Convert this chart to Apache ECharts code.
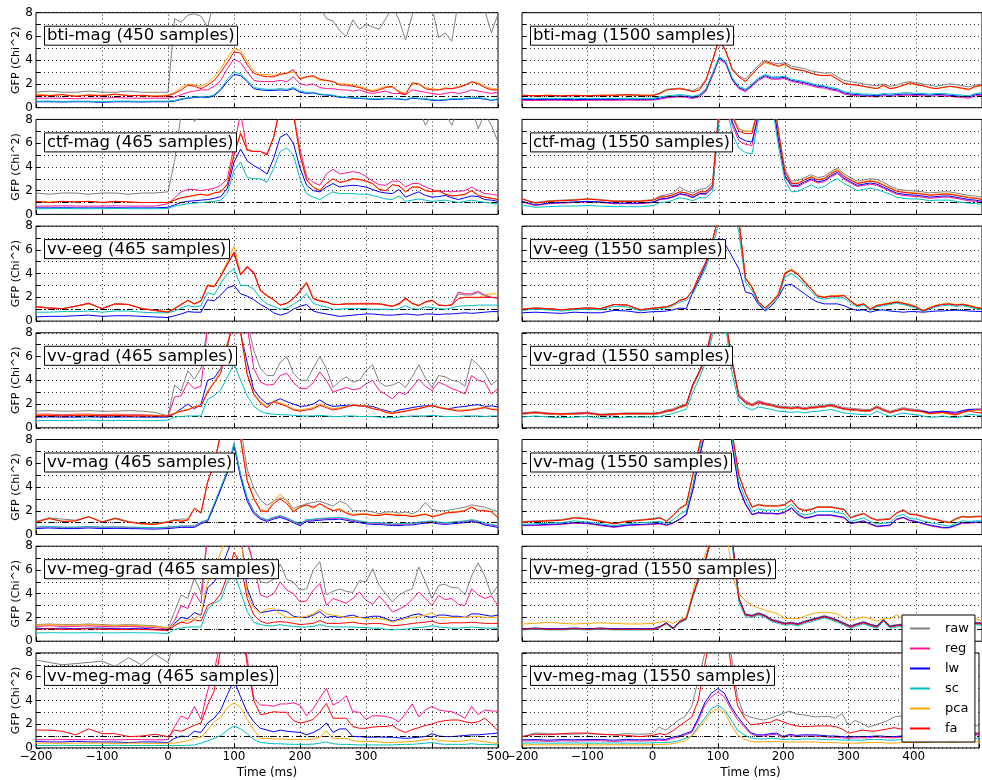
<!DOCTYPE html>
<html><head><meta charset="utf-8">
<script src="https://cdn.jsdelivr.net/npm/echarts@6/dist/echarts.min.js"></script>
<style>html,body{margin:0;padding:0;background:#fff}#c{width:982px;height:780px}</style>
</head><body><div id="c"></div>
<script>
const times = [-200,-180,-160,-140,-120,-100,-80,-60,-40,-20,0,10,20,30,40,50,60,70,80,90,100,110,120,130,140,150,160,170,180,190,200,210,220,230,240,250,260,270,280,290,300,310,320,330,340,350,360,370,380,390,400,410,420,430,440,450,460,470,480,490,500];
const seriesNames = ['raw','reg','lw','sc','pca','fa'];
const refLevel = 1;
const timeGrid = [-100,0,100,200,300,400];
const leftTicks = [-200,-100,0,100,200,300,500];
const rightTicks = [-200,-100,0,100,200,300,400];

// ---- bti-mag (450 samples)
const bti450_raw = [1.3,1.4,1.3,1.3,1.4,1.3,1.3,1.4,1.3,1.3,1.3, 7.5,7.2,7.8,7.9,7.7,6.8,9,10,11,12, 12,11,10,10,9.5,9,9,9,9,9, 9,9,8.5,7.5,7.3,6.5,6.0,7.4,6.6,7.0, 6.8,6.6,7.5,8.5,7.4,5.7,7.8,9,9,8.5, 5.9,6.3,5.6,9,9,9,9,8.2,6.3,7.9];
const bti450_reg = [0.8,0.8,0.8,0.75,0.8,0.8,0.85,0.8,0.8,0.8,0.8, 0.9,1.1,1.3,1.4,1.5,1.5,1.8,2.3,3.3,4.1, 3.8,3.0,2.3,2.2,2.2,2.2,2.3,2.2,2.6,2.0, 1.9,2.0,1.7,1.6,1.6,1.5,1.5,1.4,1.5,1.3, 1.2,1.3,1.4,1.2,1.2,1.1,1.5,1.4,1.3,1.2, 1.1,1.2,1.3,1.2,1.3,1.5,1.4,1.3,1.2,1.3];
const bti450_lw = [0.5,0.5,0.48,0.5,0.5,0.45,0.5,0.5,0.48,0.5,0.5, 0.55,0.7,0.8,0.85,0.9,0.85,1.0,1.5,2.2,2.8, 2.7,2.2,1.6,1.5,1.45,1.45,1.5,1.45,1.6,1.3, 1.2,1.25,1.1,1.07,1.0,0.87,0.85,0.8,0.78,0.75, 0.7,0.7,0.75,0.75,0.72,0.65,0.8,0.75,0.72,0.62, 0.6,0.65,0.7,0.7,0.75,0.78,0.8,0.72,0.62,0.7];
const bti450_sc = [0.55,0.56,0.53,0.55,0.55,0.5,0.55,0.56,0.53,0.55,0.55, 0.6,0.75,0.85,0.9,0.95,0.9,1.1,1.6,2.4,3.0, 2.85,2.3,1.7,1.6,1.55,1.55,1.6,1.55,1.7,1.4, 1.3,1.3,1.15,1.1,1.05,0.92,0.9,0.85,0.82,0.8, 0.75,0.75,0.8,0.8,0.77,0.7,0.85,0.8,0.77,0.68, 0.65,0.7,0.75,0.75,0.8,0.82,0.85,0.77,0.66,0.75];
const bti450_pca = [1.15,1.05,1.1,1.0,1.1,1.05,1.1,1.05,1.0,1.0,1.05, 1.3,1.7,2.0,1.9,1.8,2.1,2.6,3.3,4.2,5.0, 4.8,3.9,3.1,2.8,2.8,2.7,2.9,2.9,3.0,2.5, 2.6,2.6,2.3,2.3,2.2,2.0,2.0,1.9,1.8,1.6, 1.45,1.6,1.8,1.7,1.4,1.2,2.0,2.0,1.7,1.6, 1.5,1.7,1.6,1.8,1.9,2.1,2.1,1.8,1.6,1.6];
const bti450_fa = [1.05,1.0,1.1,0.95,1.05,1.0,1.15,1.0,1.05,0.95,1.0, 1.2,1.5,1.9,1.8,1.6,1.9,2.3,3.0,3.8,4.7, 4.6,3.6,2.9,2.7,2.6,2.6,2.8,2.9,3.2,2.4, 2.6,2.7,2.4,2.3,2.2,1.9,1.9,1.8,1.7,1.5, 1.35,1.5,1.7,1.8,1.3,1.1,2.1,2.0,1.6,1.5, 1.5,1.6,1.6,1.7,1.9,2.2,2.0,1.7,1.5,1.5];

// ---- bti-mag (1500 samples)
const bti1500_raw = [1.0,1.0,1.0,0.95,1.0,1.0,1.0,1.05,1.05,1.0,1.0, 1.25,1.55,1.6,1.65,1.55,1.45,1.7,2.4,4.0,5.7, 4.7,3.3,2.7,2.4,3.0,3.6,4.0,3.8,3.7,3.8, 3.5,3.4,3.3,3.1,3.0,2.9,2.95,2.6,2.3,2.2, 2.1,2.0,1.9,1.85,2.0,1.8,1.9,2.1,2.2,2.1, 2.0,1.9,1.8,1.9,2.0,1.95,1.85,1.75,1.9,2.0];
const bti1500_reg = [0.62,0.6,0.62,0.62,0.6,0.62,0.62,0.62,0.64,0.62,0.64, 0.72,0.82,0.87,0.92,0.87,0.77,0.92,1.4,2.7,4.1, 3.7,2.3,1.6,1.35,1.8,2.3,2.6,2.4,2.4,2.45, 2.2,2.1,2.0,1.85,1.7,1.65,1.5,1.4,1.15,1.05, 1.0,0.95,0.95,0.9,1.0,0.95,1.0,1.05,1.05,1.0, 1.0,0.95,1.0,1.0,0.95,0.9,0.85,0.8,1.0,1.05];
const bti1500_lw = [0.7,0.68,0.7,0.7,0.68,0.7,0.7,0.7,0.72,0.7,0.72, 0.8,0.9,0.95,1.0,0.95,0.85,1.0,1.5,2.8,4.2, 3.8,2.4,1.7,1.45,1.9,2.4,2.7,2.5,2.5,2.55, 2.3,2.2,2.1,1.95,1.8,1.75,1.6,1.5,1.25,1.15, 1.1,1.05,1.05,1.0,1.1,1.05,1.1,1.15,1.15,1.1, 1.1,1.05,1.1,1.1,1.05,1.0,0.95,0.9,1.1,1.15];
const bti1500_sc = [0.78,0.76,0.78,0.78,0.76,0.78,0.78,0.78,0.8,0.78,0.8, 0.9,1.0,1.05,1.1,1.05,0.95,1.1,1.6,2.9,4.3, 3.9,2.5,1.8,1.55,2.0,2.5,2.8,2.6,2.6,2.65, 2.4,2.3,2.2,2.05,1.9,1.85,1.7,1.6,1.35,1.25, 1.2,1.15,1.15,1.1,1.2,1.15,1.2,1.25,1.25,1.2, 1.2,1.15,1.2,1.2,1.15,1.1,1.05,1.0,1.2,1.25];
const bti1500_pca = [1.05,1.0,1.05,1.0,1.05,1.0,1.05,1.05,1.1,1.05,1.05, 1.2,1.5,1.55,1.6,1.5,1.35,1.5,2.3,4.0,5.8, 4.8,3.2,2.6,2.2,2.8,3.4,3.8,3.6,3.5,3.6, 3.3,3.2,3.1,2.9,2.75,2.7,2.7,2.4,2.05,1.95, 1.9,1.8,1.7,1.6,1.85,1.6,1.7,1.9,2.05,1.9, 1.85,1.7,1.6,1.7,1.8,1.7,1.6,1.5,1.75,1.85];
const bti1500_fa = [1.05,1.0,1.05,1.0,1.05,1.0,1.05,1.05,1.1,1.05,1.05, 1.2,1.5,1.55,1.6,1.5,1.35,1.5,2.3,4.0,5.8, 4.8,3.2,2.6,2.2,2.8,3.4,3.9,3.7,3.5,3.7, 3.3,3.2,3.1,2.9,2.75,2.7,2.75,2.4,2.05,1.95, 1.9,1.8,1.7,1.6,1.9,1.6,1.7,1.9,2.1,1.95, 1.85,1.7,1.6,1.7,1.8,1.75,1.65,1.55,1.8,1.9];

// ---- ctf-mag (465 samples)
const ctf465_raw = [1.8,1.7,1.8,1.8,1.7,1.8,1.8,1.7,1.8,1.8,1.9, 4.5,8.5,9,7.8,8.5,9,10,11,12,12, 12,12,12,12,12,12,12,12,12,11, 10,10,9.5,9.5,9,9,9,9,9,9, 9,9,9,9,9,9,9,9,7.5,8.5, 9,8.5,7.5,9,9,9,7.2,8.5,7.5,6.1];
const ctf465_reg = [0.7,0.7,0.72,0.7,0.7,0.7,0.72,0.7,0.7,0.7,0.9, 1.4,1.9,2.1,2.1,2.0,2.1,2.2,2.45,3.0,5.8, 8.5,5.4,5.3,5.3,5.1,6.5,9,9,8.5,5.5, 3.2,2.7,2.45,3.4,3.8,3.4,3.5,3.6,3.5,3.2, 2.8,2.5,2.45,2.8,2.8,2.3,2.6,2.6,2.3,2.1, 1.9,1.95,1.9,1.95,2.0,2.3,2.0,1.75,1.7,1.6];
const ctf465_lw = [0.55,0.55,0.56,0.55,0.55,0.55,0.56,0.55,0.55,0.55,0.6, 0.8,1.0,1.1,1.15,1.2,1.25,1.35,1.5,2.2,4.4, 5.5,4.5,4.1,3.8,3.4,4.7,6.5,6.8,6.0,3.9, 2.45,2.0,1.9,2.3,2.6,2.3,2.4,2.45,2.4,2.3, 2.1,1.9,1.8,1.75,2.1,1.45,1.7,1.9,1.6,1.45, 1.5,1.6,1.4,1.25,1.4,1.55,1.5,1.25,1.2,1.1];
const ctf465_sc = [0.48,0.48,0.5,0.48,0.48,0.48,0.5,0.48,0.48,0.48,0.5, 0.7,0.8,0.9,0.95,1.0,1.05,1.1,1.2,1.8,3.7, 4.4,3.1,3.0,3.0,2.7,3.85,5.3,5.6,5.0,3.0, 1.75,1.45,1.25,1.6,1.9,1.75,1.75,1.75,1.7,1.7, 1.6,1.45,1.3,1.25,1.55,1.1,1.2,1.3,1.2,1.1, 1.15,1.2,1.1,1.0,1.1,1.2,1.1,1.0,0.95,0.85];
const ctf465_pca = [1.1,1.05,1.1,1.05,1.1,1.0,1.1,1.05,1.0,1.0,1.0, 1.2,1.4,1.5,1.6,1.7,1.6,1.8,1.95,2.6,5.2, 6.9,5.5,5.3,5.3,5.0,6.5,9,9,8.5,5.0, 2.9,2.3,2.0,2.6,3.0,2.7,2.8,3.0,2.95,2.8, 2.6,2.1,2.0,2.5,2.4,1.9,2.3,2.3,2.0,1.9, 2.0,1.7,1.55,1.6,1.7,2.0,1.6,1.45,1.35,1.3];
const ctf465_fa = [1.1,1.0,1.1,1.05,1.1,1.0,1.1,1.05,1.0,1.0,1.0, 1.2,1.4,1.5,1.6,1.7,1.6,1.8,1.9,2.5,5.0, 6.8,5.4,5.3,5.3,5.0,6.5,9,9,8.5,5.0, 2.9,2.3,2.0,2.6,3.0,2.7,2.8,3.0,2.95,2.8, 2.6,2.1,2.0,2.5,2.4,1.9,2.3,2.3,2.0,1.9, 2.0,1.7,1.55,1.6,1.7,2.0,1.6,1.45,1.35,1.25];

// ---- ctf-mag (1550 samples)
const ctf1550_raw = [1.3,1.0,1.15,1.2,1.25,1.3,1.25,1.15,1.15,1.15,1.25, 1.55,1.65,1.8,2.3,2.0,1.8,2.1,2.2,2.7,9, 11,8.4,7.2,7.0,7.0,9,12,11,7.2,3.8, 2.8,2.85,3.1,3.35,3.1,3.2,3.6,3.9,3.4,3.1, 2.8,2.9,3.0,2.95,2.7,2.4,2.15,2.05,2.0,1.95, 1.9,1.8,1.85,1.9,1.9,1.8,1.7,1.6,1.55,1.45];
const ctf1550_reg = [1.05,0.75,0.9,0.95,1.0,1.05,1.0,0.9,0.9,0.9,1.0, 1.25,1.3,1.45,1.7,1.6,1.4,1.7,1.7,2.2,8.5, 10,7.5,6.2,5.9,5.8,8.5,11,10,6.3,3.2, 2.35,2.35,2.65,2.9,2.65,2.75,3.15,3.45,2.95,2.65, 2.35,2.45,2.55,2.45,2.2,1.95,1.7,1.6,1.55,1.5, 1.45,1.35,1.4,1.45,1.45,1.35,1.25,1.15,1.1,1.0];
const ctf1550_lw = [1.1,0.8,0.95,1.0,1.05,1.1,1.05,0.95,0.95,0.95,1.05, 1.3,1.35,1.5,1.75,1.65,1.45,1.75,1.75,2.3,8.5, 10,7.8,6.5,6.2,6.1,8.5,11,10,6.5,3.3, 2.45,2.45,2.75,3.0,2.75,2.85,3.25,3.55,3.05,2.75, 2.45,2.55,2.65,2.55,2.3,2.05,1.8,1.7,1.65,1.6, 1.55,1.45,1.5,1.55,1.55,1.45,1.35,1.25,1.2,1.1];
const ctf1550_sc = [0.8,0.6,0.65,0.7,0.7,0.75,0.7,0.65,0.65,0.65,0.75, 1.0,1.05,1.2,1.4,1.3,1.15,1.4,1.4,1.9,8, 9.5,6.8,5.6,5.2,5.1,8,10.5,9.5,5.8,2.9, 1.9,1.95,2.2,2.5,2.2,2.35,2.75,3.0,2.6,2.3, 2.0,2.1,2.2,2.1,1.9,1.7,1.45,1.35,1.3,1.3, 1.25,1.15,1.2,1.2,1.2,1.1,1.0,0.95,0.9,0.85];
const ctf1550_pca = [1.3,0.95,1.1,1.15,1.2,1.3,1.2,1.1,1.1,1.1,1.2, 1.45,1.5,1.65,1.9,1.8,1.6,1.9,1.9,2.5,9, 11,8.3,7.2,7.0,7.0,9,12,11,7.0,3.6, 2.65,2.65,2.95,3.2,2.95,3.05,3.5,3.8,3.25,2.95, 2.65,2.75,2.85,2.75,2.5,2.25,2.0,1.9,1.85,1.8, 1.75,1.65,1.7,1.75,1.75,1.65,1.55,1.45,1.4,1.3];
const ctf1550_fa = [1.3,0.95,1.1,1.15,1.2,1.3,1.2,1.1,1.1,1.1,1.2, 1.45,1.5,1.65,1.9,1.8,1.6,1.9,1.9,2.5,9, 11,8.2,7.0,6.8,6.8,9,12,11,7.0,3.6, 2.6,2.6,2.9,3.15,2.9,3.0,3.4,3.7,3.2,2.9, 2.6,2.7,2.8,2.7,2.45,2.2,1.95,1.85,1.8,1.75, 1.7,1.6,1.65,1.7,1.7,1.6,1.5,1.4,1.35,1.25];

// ---- vv-eeg (465 samples)
const eeg465_raw = [1.2,1.1,1.05,1.25,1.5,1.05,1.45,1.4,1.05,0.9,0.75, 1.05,1.4,1.75,1.45,1.7,3.0,2.9,3.8,4.8,5.7, 3.9,4.6,4.1,2.6,2.15,1.8,1.35,1.5,1.9,2.5, 3.2,1.9,1.7,1.6,1.4,1.4,1.45,1.45,1.45,1.45, 1.45,1.45,1.35,1.25,1.45,1.9,1.5,1.3,1.6,1.75, 1.35,1.3,1.35,2.3,2.2,2.2,2.4,2.1,2.0,1.95];
const eeg465_reg = [1.2,1.1,1.05,1.25,1.5,1.05,1.45,1.4,1.05,0.9,0.75, 1.05,1.4,1.75,1.45,1.7,3.0,2.9,3.8,4.8,5.7, 3.9,4.5,4.0,2.6,2.15,1.8,1.35,1.5,1.9,2.6, 3.3,1.9,1.7,1.6,1.4,1.4,1.45,1.45,1.5,1.5, 1.5,1.45,1.35,1.25,1.5,1.95,1.5,1.3,1.65,1.75, 1.35,1.3,1.35,2.45,2.3,2.3,2.5,2.2,2.0,1.95];
const eeg465_lw = [0.35,0.4,0.4,0.45,0.5,0.4,0.45,0.45,0.4,0.35,0.3, 0.45,0.6,0.8,0.75,0.75,1.8,1.7,2.2,2.8,3.0, 2.3,2.1,1.8,1.4,1.1,0.7,0.5,0.65,1.0,1.25, 1.4,0.85,0.7,0.6,0.5,0.4,0.45,0.5,0.55,0.6, 0.6,0.55,0.5,0.5,0.55,0.6,0.55,0.5,0.6,0.6, 0.55,0.6,0.6,0.65,0.7,0.65,0.7,0.75,0.8,0.8];
const eeg465_sc = [0.75,0.75,0.8,0.8,0.85,0.75,0.85,0.85,0.75,0.7,0.7, 0.85,1.1,1.3,1.2,1.3,2.4,2.2,3.2,4.0,4.4, 3.0,3.0,2.7,1.9,1.45,1.25,1.0,1.1,1.4,1.8, 2.3,1.5,1.3,1.2,1.0,1.0,1.05,1.05,1.05,1.05, 1.0,1.0,1.0,0.95,1.05,1.3,1.05,1.0,1.2,1.15, 1.05,1.0,1.1,1.25,1.3,1.3,1.35,1.35,1.35,1.35];
const eeg465_pca = [1.25,1.1,1.05,1.25,1.45,1.05,1.45,1.4,1.05,0.9,0.8, 1.1,1.45,1.75,1.45,1.7,3.1,2.9,3.9,5.0,6.3, 4.0,4.6,4.1,2.5,2.1,1.8,1.35,1.5,1.9,2.5, 3.3,1.95,1.75,1.6,1.4,1.4,1.45,1.45,1.45,1.45, 1.45,1.45,1.35,1.25,1.4,1.85,1.45,1.3,1.6,1.7, 1.35,1.3,1.35,1.9,2.0,2.0,1.95,2.2,2.3,2.3];
const eeg465_fa = [1.2,1.1,1.05,1.25,1.5,1.05,1.45,1.4,1.05,0.9,0.75, 1.05,1.4,1.75,1.45,1.7,3.0,2.9,3.8,4.8,5.8, 3.9,4.6,4.1,2.6,2.15,1.8,1.35,1.5,1.9,2.5, 3.2,1.9,1.7,1.6,1.4,1.4,1.45,1.45,1.45,1.45, 1.45,1.45,1.35,1.25,1.45,1.9,1.5,1.3,1.6,1.75, 1.35,1.3,1.35,1.9,2.0,2.0,2.0,2.0,2.0,1.95];

// ---- vv-eeg (1550 samples)
const eeg1550_raw = [1.0,1.1,1.05,0.95,1.05,1.1,1.05,1.4,1.35,0.95,1.1, 1.15,1.2,1.4,1.75,1.9,2.6,3.85,5.0,6.8,9, 11,10,8.5,3.6,2.85,1.6,1.1,1.6,2.2,4.0, 4.3,3.9,3.3,2.7,2.1,2.0,2.1,2.1,2.15,1.7, 1.3,1.45,1.0,1.3,1.4,1.5,1.6,1.5,1.35,1.2, 0.85,1.1,1.3,1.4,1.45,1.35,1.4,1.3,1.15,1.05];
const eeg1550_reg = [1.0,1.1,1.05,0.95,1.05,1.1,1.05,1.4,1.35,0.95,1.1, 1.15,1.2,1.4,1.75,1.9,2.6,3.85,5.0,6.8,9, 11,10,8.5,3.6,2.85,1.6,1.1,1.6,2.2,4.0, 4.3,3.9,3.3,2.7,2.1,2.0,2.1,2.1,2.15,1.7, 1.3,1.45,1.0,1.3,1.4,1.5,1.6,1.5,1.35,1.2, 0.85,1.1,1.3,1.4,1.45,1.35,1.4,1.3,1.15,1.05];
const eeg1550_lw = [0.7,0.75,0.7,0.65,0.75,0.7,0.7,0.9,0.85,0.7,0.8, 0.8,0.85,0.95,1.1,1.05,2.45,3.55,4.8,6.4,7.0, 6.4,5.4,4.4,2.45,2.3,1.4,0.85,1.3,2.0,3.0, 3.1,2.7,2.3,1.9,1.6,1.45,1.45,1.45,1.3,1.05, 0.9,0.95,0.75,0.9,0.95,0.85,0.8,0.75,0.8,0.8, 0.75,0.8,0.85,0.85,0.9,0.92,0.9,0.85,0.82,0.8];
const eeg1550_sc = [0.9,1.0,0.95,0.85,0.95,1.0,0.95,1.25,1.2,0.85,1.0, 1.05,1.1,1.3,1.6,1.75,2.3,3.4,4.5,6.2,8.5, 10,9.5,7.5,3.3,2.6,1.45,0.95,1.45,2.0,3.7, 4.0,3.6,3.05,2.5,1.95,1.85,1.95,1.95,1.95,1.55, 1.2,1.35,0.9,1.2,1.3,1.4,1.5,1.4,1.25,1.1, 0.8,1.0,1.2,1.3,1.35,1.25,1.3,1.2,1.05,0.95];
const eeg1550_pca = [1.05,1.1,1.05,0.95,1.05,1.1,1.05,1.4,1.35,0.95,1.1, 1.15,1.2,1.4,1.75,1.9,2.6,3.85,5.0,6.8,9, 11,10,8.5,3.7,2.9,1.65,1.15,1.65,2.3,4.1, 4.4,4.0,3.4,2.75,2.15,2.05,2.15,2.15,2.2,1.75, 1.35,1.5,1.05,1.35,1.45,1.55,1.65,1.55,1.4,1.25, 0.9,1.15,1.35,1.45,1.5,1.4,1.45,1.35,1.2,1.1];
const eeg1550_fa = [1.0,1.1,1.05,0.95,1.05,1.1,1.05,1.4,1.35,0.95,1.1, 1.15,1.2,1.4,1.75,1.9,2.6,3.85,5.0,6.8,9, 11,10,8.5,3.6,2.85,1.6,1.1,1.6,2.2,4.0, 4.3,3.9,3.3,2.7,2.1,2.0,2.1,2.1,2.15,1.7, 1.3,1.45,1.0,1.3,1.4,1.5,1.6,1.5,1.35,1.2, 0.85,1.1,1.3,1.4,1.45,1.35,1.4,1.3,1.15,1.05];

// ---- vv-grad (465 samples)
const grad465_raw = [1.4,1.45,1.4,1.4,1.45,1.4,1.4,1.45,1.4,1.3,1.0, 3.6,3.1,4.8,4.1,5.0,8.5,10,11,12,12, 11,9,6.5,5.0,4.4,4.4,5.5,6.0,4.6,4.0, 4.0,5.0,6.0,5.0,3.4,3.9,4.3,3.85,4.0,4.8, 5.3,3.85,3.5,3.6,3.85,3.4,4.3,5.3,4.2,3.4, 4.4,4.3,4.0,3.9,3.5,5.8,5.3,4.6,3.6,4.1];
const grad465_reg = [1.15,1.15,1.1,1.15,1.15,1.1,1.15,1.1,1.1,1.05,0.95, 2.6,2.7,3.85,3.3,3.5,8.5,10,11,12,12, 10,8.5,5.0,3.85,3.6,3.65,4.4,4.6,3.8,3.3, 3.3,3.8,4.7,4.0,3.0,3.2,3.4,3.2,3.3,3.7, 4.0,3.15,2.8,2.45,3.0,2.8,3.4,4.1,3.5,3.15, 3.85,3.6,3.3,3.1,2.85,4.4,4.0,3.85,2.85,3.3];
const grad465_lw = [0.9,0.92,0.9,0.9,0.92,0.9,0.9,0.92,0.9,0.9,0.9, 1.2,1.6,2.0,1.6,2.0,4.0,4.2,5.0,7.0,9, 8,5.5,3.2,2.5,2.0,2.2,2.45,2.2,2.0,1.8, 1.85,2.0,2.35,2.0,1.8,1.85,1.9,1.9,1.85,1.85, 1.8,1.6,1.45,1.3,1.5,1.6,1.7,1.8,1.85,1.9, 1.75,1.6,1.65,1.75,1.8,1.9,1.95,1.8,1.85,1.75];
const grad465_sc = [0.6,0.62,0.6,0.62,0.65,0.6,0.62,0.62,0.6,0.6,0.65, 0.9,0.95,1.0,1.0,1.0,2.4,2.7,3.2,4.3,5.4, 4.0,2.7,1.8,1.4,1.2,1.15,1.1,1.1,1.05,1.0, 1.0,1.0,1.05,1.0,0.95,0.95,1.0,1.0,0.95,0.95, 0.95,0.9,0.85,0.85,0.9,0.95,1.0,1.0,1.0,1.05, 1.0,0.95,0.95,0.95,1.0,1.0,1.0,0.95,1.0,1.0];
const grad465_pca = [1.1,1.1,1.05,1.1,1.1,1.05,1.1,1.05,1.05,1.05,1.0, 1.25,1.45,1.55,1.8,1.85,3.1,3.9,4.8,7.2,9, 8.2,4.6,2.9,2.2,1.8,2.3,2.1,1.9,1.6,1.5, 1.6,1.7,2.0,1.8,1.6,1.7,1.8,1.95,1.9,1.85, 1.65,1.55,1.35,1.25,1.35,1.45,1.55,1.65,1.8,1.9, 1.75,1.65,1.55,1.5,1.5,1.55,1.65,1.75,1.6,1.55];
const grad465_fa = [1.05,1.05,1.0,1.05,1.05,1.0,1.05,1.0,1.0,1.0,1.0, 1.2,1.4,1.5,1.75,1.8,3.0,3.8,4.6,7.0,9, 8,4.5,2.8,2.1,1.7,2.2,2.0,1.8,1.5,1.4, 1.5,1.6,1.9,1.7,1.5,1.6,1.75,1.9,1.85,1.8, 1.6,1.5,1.3,1.2,1.3,1.4,1.5,1.6,1.75,1.85, 1.7,1.6,1.5,1.4,1.45,1.5,1.6,1.7,1.55,1.5];

// ---- vv-grad (1550 samples)
const grad1550_raw = [1.25,1.35,1.25,1.2,1.25,1.3,1.15,1.2,1.25,1.25,1.25, 1.3,1.5,1.6,1.85,2.0,3.7,4.8,6.2,8.6,11, 9,5.6,2.8,2.3,2.0,2.3,2.1,2.0,1.85,1.8, 1.75,1.8,1.7,1.8,1.85,1.9,2.0,1.85,1.7,1.65, 1.6,1.55,1.55,1.85,1.6,1.4,1.55,1.7,1.6,1.55, 1.45,1.3,1.35,1.4,1.3,1.2,1.4,1.55,1.6,1.6];
const grad1550_reg = [1.2,1.3,1.2,1.15,1.2,1.25,1.1,1.15,1.2,1.2,1.2, 1.25,1.45,1.5,1.75,1.95,3.6,4.7,6.1,8.5,11, 9,5.5,2.7,2.2,1.9,2.2,2.05,1.9,1.75,1.7, 1.65,1.7,1.6,1.7,1.75,1.8,1.9,1.75,1.6,1.55, 1.5,1.45,1.45,1.75,1.5,1.3,1.45,1.6,1.5,1.45, 1.4,1.25,1.3,1.35,1.25,1.15,1.35,1.5,1.5,1.55];
const grad1550_lw = [1.15,1.25,1.15,1.1,1.15,1.2,1.05,1.1,1.15,1.15,1.15, 1.2,1.35,1.45,1.7,1.9,3.6,4.7,6.0,8.4,11, 9,5.4,2.6,2.1,1.85,2.1,1.95,1.85,1.7,1.65, 1.6,1.65,1.55,1.65,1.7,1.75,1.85,1.7,1.55,1.5, 1.45,1.4,1.4,1.7,1.45,1.25,1.4,1.55,1.45,1.4, 1.4,1.3,1.35,1.4,1.35,1.3,1.45,1.55,1.5,1.45];
const grad1550_sc = [0.9,1.0,0.9,0.85,0.9,0.95,0.8,0.85,0.9,0.9,0.9, 0.95,1.1,1.2,1.4,1.55,3.0,4.2,5.6,7.8,10, 8.5,4.5,2.2,1.75,1.5,1.75,1.65,1.55,1.4,1.35, 1.3,1.35,1.25,1.35,1.4,1.45,1.55,1.4,1.25,1.2, 1.15,1.1,1.1,1.4,1.15,0.95,1.1,1.25,1.15,1.1, 1.0,0.9,0.9,1.0,0.9,0.85,0.95,1.1,1.1,1.0];
const grad1550_pca = [1.15,1.25,1.15,1.1,1.15,1.2,1.05,1.1,1.15,1.15,1.15, 1.2,1.35,1.45,1.7,1.85,3.5,4.6,6.0,8.4,11, 9,5.4,2.65,2.1,1.85,2.1,1.95,1.85,1.7,1.65, 1.6,1.65,1.55,1.65,1.7,1.75,1.85,1.7,1.55,1.5, 1.45,1.4,1.4,1.7,1.45,1.25,1.4,1.55,1.45,1.4, 1.3,1.15,1.2,1.25,1.15,1.05,1.25,1.4,1.45,1.45];
const grad1550_fa = [1.2,1.3,1.2,1.15,1.2,1.25,1.1,1.15,1.2,1.2,1.2, 1.25,1.4,1.5,1.75,1.9,3.6,4.7,6.1,8.5,11, 9,5.5,2.7,2.15,1.9,2.15,2.0,1.9,1.75,1.7, 1.65,1.7,1.6,1.7,1.75,1.8,1.9,1.75,1.6,1.55, 1.5,1.45,1.45,1.75,1.5,1.3,1.45,1.6,1.5,1.45, 1.35,1.2,1.25,1.3,1.2,1.1,1.3,1.45,1.3,1.25];

// ---- vv-mag (465 samples)
const mag465_raw = [1.1,1.4,1.3,1.2,1.5,1.05,1.4,1.1,0.95,0.9,1.1, 1.25,1.3,1.3,2.2,1.85,4.4,6.0,8.5,11,12, 9,5.5,3.9,2.9,2.45,2.8,3.1,2.9,2.2,2.4, 2.6,2.7,2.8,2.6,2.4,2.8,2.6,2.0,2.0,2.0, 1.9,1.75,1.9,1.9,1.8,1.9,1.75,2.0,2.7,2.1, 2.0,2.0,2.1,2.2,2.3,2.5,2.4,2.3,2.1,1.9];
const mag465_reg = [0.6,0.65,0.6,0.6,0.65,0.6,0.62,0.6,0.58,0.55,0.6, 0.65,0.7,0.7,0.7,1.0,1.2,2.5,3.9,5.3,7.6, 5.0,3.0,1.9,1.4,1.2,1.4,1.55,1.35,1.1,0.85, 1.2,1.25,1.3,1.35,1.35,1.4,1.3,1.2,1.1,1.0, 0.95,0.95,0.9,0.85,0.85,0.9,0.9,1.0,1.05,1.1, 1.0,0.95,1.0,1.05,1.1,1.2,1.1,0.9,0.8,0.7];
const mag465_lw = [0.5,0.55,0.5,0.5,0.55,0.5,0.52,0.5,0.48,0.45,0.5, 0.55,0.6,0.6,0.6,0.9,1.1,2.4,3.8,5.2,7.5, 4.8,2.8,1.75,1.3,1.1,1.3,1.45,1.25,1.0,0.75, 1.1,1.15,1.2,1.25,1.25,1.3,1.2,1.1,1.0,0.9, 0.85,0.85,0.8,0.75,0.75,0.8,0.8,0.9,0.95,1.0, 0.9,0.85,0.9,0.95,1.0,1.1,1.0,0.8,0.7,0.6];
const mag465_sc = [0.62,0.67,0.62,0.62,0.67,0.62,0.64,0.62,0.6,0.57,0.62, 0.67,0.72,0.72,0.72,1.05,1.25,2.6,4.0,5.4,7.7, 5.1,3.1,1.95,1.45,1.25,1.45,1.6,1.4,1.15,0.9, 1.25,1.3,1.35,1.4,1.4,1.45,1.35,1.25,1.15,1.05, 1.0,1.0,0.95,0.9,0.9,0.95,0.95,1.05,1.1,1.15, 1.05,1.0,1.05,1.1,1.15,1.25,1.15,0.95,0.85,0.75];
const mag465_pca = [1.05,1.35,1.1,1.15,1.5,1.05,1.35,1.05,0.9,0.85,1.05, 1.2,1.15,1.25,2.2,1.85,4.4,6.0,8.5,11,12, 8.2,4.6,3.1,2.1,2.0,2.8,3.4,2.8,2.0,2.3, 2.5,2.2,2.6,2.2,2.0,2.2,1.85,1.7,1.75,1.75, 1.65,1.65,1.75,1.7,1.65,1.65,1.55,1.65,1.75,1.55, 1.65,1.85,1.9,1.95,2.05,2.35,2.05,2.05,1.95,1.45];
const mag465_fa = [1.05,1.35,1.1,1.15,1.5,1.05,1.35,1.05,0.9,0.85,1.05, 1.2,1.1,1.2,2.2,1.8,4.4,6.0,8.5,11,12, 8,4.5,3.0,2.0,1.9,2.6,3.0,2.6,1.9,2.3, 2.5,2.3,2.6,2.3,2.0,2.1,1.8,1.6,1.7,1.7, 1.6,1.6,1.7,1.65,1.6,1.6,1.5,1.6,1.7,1.5, 1.6,1.8,1.85,1.9,2.0,2.3,2.0,2.0,1.9,1.4];

// ---- vv-mag (1550 samples)
const mag1550_raw = [1.1,1.15,1.2,1.25,1.45,1.35,1.15,0.95,1.15,1.25,1.35, 1.45,1.15,1.65,2.25,2.55,5.0,7.5,10,12,12, 12,8.5,5.0,3.5,2.35,2.55,2.45,2.45,2.45,2.55, 2.95,2.25,2.05,2.15,2.35,2.35,2.35,2.25,2.15,1.45, 1.65,1.8,1.45,1.25,1.3,1.35,1.85,2.1,1.75,1.7, 1.55,1.4,1.3,1.15,1.05,1.35,1.55,1.5,1.55,1.55];
const mag1550_reg = [0.75,0.75,0.8,0.85,0.95,0.9,0.75,0.6,0.75,0.8,0.85, 0.9,0.75,0.95,1.25,1.65,3.7,6.4,9,11,12, 11,7.4,3.9,2.5,1.65,1.8,1.75,1.75,1.7,1.85, 2.2,1.65,1.35,1.45,1.6,1.6,1.6,1.5,1.4,0.9, 1.0,1.1,0.85,0.65,0.7,0.75,1.25,1.4,1.15,1.05, 0.9,0.75,0.65,0.55,0.55,0.75,0.95,0.95,1.0,1.0];
const mag1550_lw = [0.8,0.8,0.85,0.9,1.0,0.95,0.8,0.65,0.8,0.85,0.9, 0.95,0.8,1.0,1.3,1.7,3.8,6.5,9,11,12, 11,7.5,4.0,2.6,1.7,1.85,1.8,1.8,1.75,1.9, 2.25,1.7,1.4,1.5,1.65,1.65,1.65,1.55,1.45,0.95, 1.05,1.15,0.9,0.7,0.75,0.8,1.3,1.45,1.2,1.1, 0.95,0.8,0.7,0.6,0.6,0.8,1.0,1.0,1.05,1.05];
const mag1550_sc = [0.85,0.9,0.95,1.0,1.15,1.05,0.9,0.75,0.9,1.0,1.05, 1.1,0.9,1.25,1.7,2.0,4.2,7.0,9.5,11,12, 11.5,8,4.5,3.0,1.95,2.15,2.05,2.05,2.05,2.15, 2.55,1.85,1.65,1.75,1.95,1.95,1.95,1.85,1.75,1.1, 1.25,1.4,1.1,0.9,0.95,1.0,1.5,1.7,1.35,1.3, 1.15,1.0,0.9,0.8,0.7,0.95,1.15,1.1,1.15,1.15];
const mag1550_pca = [1.05,1.1,1.15,1.2,1.4,1.3,1.1,0.9,1.1,1.2,1.3, 1.4,1.1,1.6,2.2,2.5,5.0,7.5,10,12,12, 12,8.5,5.0,3.5,2.3,2.5,2.4,2.4,2.4,2.5, 2.9,2.2,2.0,2.1,2.3,2.35,2.3,2.2,2.1,1.4, 1.6,1.75,1.4,1.2,1.25,1.3,1.8,2.05,1.7,1.65, 1.5,1.35,1.25,1.1,1.0,1.3,1.5,1.45,1.5,1.5];
const mag1550_fa = [1.05,1.1,1.15,1.2,1.4,1.3,1.1,0.9,1.1,1.2,1.3, 1.4,1.1,1.6,2.2,2.5,5.0,7.5,10,12,12, 12,8.5,5.0,3.5,2.3,2.5,2.4,2.4,2.4,2.5, 2.9,2.2,2.0,2.1,2.3,2.3,2.3,2.2,2.1,1.4, 1.6,1.75,1.4,1.2,1.25,1.3,1.8,2.05,1.7,1.65, 1.5,1.35,1.25,1.1,1.0,1.3,1.5,1.45,1.5,1.5];

// ---- vv-meg-grad (465 samples)
const mgrad465_raw = [1.4,1.45,1.4,1.4,1.45,1.4,1.35,1.4,1.35,1.3,1.1, 2.5,3.9,3.6,5.3,4.1,9,11,12,12,12, 11,8.2,6.5,5.0,4.9,5.2,6.5,5.2,5.0,4.3, 4.4,6.0,6.7,3.9,4.2,4.4,4.2,4.1,5.1,5.0, 6.1,4.7,4.0,3.3,3.9,4.2,4.4,6.25,5.0,3.6, 4.7,4.8,4.5,4.5,3.9,5.5,6.6,5.5,3.9,4.7];
const mgrad465_reg = [1.25,1.3,1.25,1.25,1.3,1.25,1.2,1.25,1.2,1.15,1.0, 1.75,3.0,2.75,4.1,3.2,9,11,12,12,12, 10,8.5,6.4,3.9,3.7,4.0,5.0,4.3,4.0,3.3, 3.4,4.3,4.85,3.0,3.6,3.4,3.2,3.6,4.15,3.45, 3.1,3.8,3.2,2.45,2.7,3.0,3.5,4.15,3.6,3.0, 3.85,3.5,3.6,3.1,3.0,4.4,3.9,3.6,3.8,3.0];
const mgrad465_lw = [1.1,1.05,1.1,1.05,1.1,1.1,1.05,1.05,1.1,1.0,0.95, 1.5,2.0,1.9,2.4,2.2,4.5,5.0,6.0,7.5,9, 9,4.5,3.0,2.4,2.5,2.6,2.6,2.5,2.1,2.0, 2.0,2.2,2.5,2.0,2.1,2.0,2.1,2.2,2.0,2.0, 2.1,2.1,1.9,1.7,1.85,2.0,2.2,2.3,2.1,2.0, 2.2,2.2,2.1,2.1,2.0,2.3,2.3,2.2,2.1,2.2];
const mgrad465_sc = [0.7,0.72,0.7,0.7,0.72,0.7,0.7,0.72,0.7,0.7,0.65, 1.0,1.1,1.2,1.2,1.2,2.7,3.2,3.5,5.0,5.8, 4.2,2.5,1.6,1.4,1.3,1.3,1.4,1.3,1.25,1.2, 1.2,1.25,1.4,1.25,1.2,1.2,1.2,1.2,1.15,1.15, 1.1,1.1,1.0,0.95,1.0,1.0,1.1,1.15,1.2,1.3, 1.2,1.15,1.1,1.1,1.15,1.2,1.15,1.1,1.1,1.1];
const mgrad465_pca = [1.35,1.4,1.35,1.35,1.4,1.35,1.3,1.35,1.3,1.25,1.1, 1.4,1.6,1.8,1.9,2.3,5,6,7.5,9,10, 9,4.0,2.8,2.4,2.7,2.8,2.3,2.0,2.0,2.0, 2.1,2.3,2.7,2.3,2.2,2.1,2.0,2.0,2.0,1.9, 1.9,1.9,1.8,1.6,1.75,1.9,2.0,2.1,2.2,2.4, 2.0,2.0,2.0,2.0,2.0,2.1,2.1,2.0,2.0,2.0];
const mgrad465_fa = [1.0,1.05,1.0,1.0,1.05,1.0,1.0,1.0,1.0,0.95,0.9, 1.3,1.6,1.5,1.8,1.7,3.0,3.3,4.0,5.5,7.5, 6.5,3.6,2.2,1.7,1.5,1.6,1.65,1.6,1.5,1.4, 1.45,1.5,1.75,1.5,1.5,1.5,1.55,1.6,1.5,1.45, 1.5,1.5,1.4,1.3,1.35,1.4,1.5,1.55,1.6,1.7, 1.5,1.5,1.55,1.55,1.55,1.6,1.55,1.5,1.5,1.5];

// ---- vv-meg-grad (1550 samples)
const mgrad1550_raw = [1.05,1.1,1.05,1.05,1.1,1.05,1.1,1.05,1.05,1.05,1.05, 1.25,1.55,1.1,1.65,1.95,3.9,5.5,7.0,9,11, 11,8.5,3.7,2.3,2.2,2.4,2.2,1.85,1.7,1.55, 1.6,1.5,1.7,1.85,2.0,2.15,2.0,1.8,1.55,1.3, 1.5,1.65,1.45,1.3,1.85,1.3,1.4,1.45,1.5,1.6, 1.5,1.55,1.6,1.55,1.6,1.5,1.45,1.5,1.6,1.55];
const mgrad1550_reg = [1.0,1.05,1.0,1.0,1.05,1.0,1.05,1.0,1.0,1.0,1.0, 1.2,1.5,1.05,1.6,1.9,3.85,5.5,7.0,9,11, 11,8.5,3.6,2.2,2.1,2.3,2.1,1.75,1.6,1.45, 1.5,1.4,1.6,1.75,1.9,2.05,1.9,1.7,1.45,1.2, 1.4,1.55,1.35,1.2,1.75,1.2,1.3,1.35,1.4,1.5, 1.4,1.45,1.5,1.45,1.5,1.4,1.35,1.4,1.5,1.45];
const mgrad1550_lw = [1.05,1.1,1.05,1.05,1.1,1.05,1.1,1.05,1.05,1.05,1.05, 1.25,1.55,1.1,1.65,1.95,3.8,5.4,7.0,9,11, 11,8.5,3.6,2.25,2.15,2.35,2.15,1.8,1.65,1.5, 1.55,1.45,1.65,1.8,1.95,2.1,1.95,1.75,1.5,1.25, 1.45,1.6,1.4,1.25,1.8,1.25,1.35,1.4,1.45,1.55, 1.45,1.5,1.55,1.5,1.55,1.45,1.4,1.45,1.55,1.5];
const mgrad1550_sc = [0.95,1.0,0.95,0.95,1.0,0.95,1.0,0.95,0.95,0.95,0.95, 1.15,1.45,1.0,1.55,1.8,3.7,5.3,6.8,9,11, 11,8.0,3.3,2.05,2.0,2.2,2.0,1.65,1.5,1.35, 1.4,1.3,1.5,1.65,1.8,1.95,1.8,1.6,1.35,1.1, 1.3,1.45,1.25,1.1,1.65,1.1,1.2,1.25,1.3,1.4, 1.3,1.35,1.4,1.35,1.4,1.3,1.25,1.3,1.4,1.35];
const mgrad1550_pca = [1.45,1.5,1.6,1.5,1.45,1.5,1.55,1.5,1.45,1.45,1.5, 1.6,1.7,1.5,1.8,2.0,4.2,6.0,7.5,9,11, 10,5.5,4.0,3.4,3.0,2.8,2.6,2.45,2.3,1.9, 1.9,1.9,2.1,2.3,2.4,2.45,2.4,2.3,1.95,1.75, 1.9,2.05,1.9,1.7,1.9,1.9,2.2,1.9,1.9,2.0, 2.0,2.0,1.9,1.9,1.85,1.9,1.8,1.9,1.9,1.7];
const mgrad1550_fa = [1.0,1.05,1.0,1.0,1.05,1.0,1.05,1.0,1.0,1.0,1.0, 1.2,1.5,1.05,1.6,1.9,3.85,5.5,7.0,9,11, 11,8.5,3.6,2.2,2.1,2.3,2.1,1.75,1.6,1.45, 1.5,1.4,1.6,1.75,1.9,2.05,1.9,1.7,1.45,1.2, 1.4,1.55,1.35,1.2,1.75,1.2,1.3,1.35,1.4,1.5, 1.4,1.45,1.5,1.45,1.5,1.4,1.35,1.4,1.5,1.45];

// ---- vv-meg-mag (465 samples)
const mmag465_raw = [7.4,7.2,7.0,7.1,7.2,7.3,6.85,7.6,7.0,7.9,7.2, 9,10,11,12,12,12,12,12,12,12, 12,12,12,12,12,12,12,12,12,12, 12,12,12,12,12,12,12,12,12,12, 12,12,12,12,12,12,12,12,12,12, 12,12,12,12,12,12,12,12,12,12];
const mmag465_reg = [0.7,0.68,0.7,0.7,0.68,0.7,0.68,0.7,0.7,0.68,0.7, 1.8,2.7,2.4,3.5,2.4,4.8,6.5,9,11,12, 11,7.5,4.2,3.6,3.6,3.5,3.7,3.7,3.8,3.6, 2.7,3.3,4.2,5.0,3.6,3.9,4.4,3.05,3.0,2.4, 2.7,2.7,2.65,2.5,2.2,2.9,3.7,2.6,3.2,3.5, 3.2,3.1,3.05,2.8,2.5,3.5,2.8,3.2,3.1,3.1];
const mmag465_lw = [0.55,0.5,0.5,0.55,0.5,0.5,0.5,0.45,0.5,0.5,0.45, 0.8,1.0,0.95,1.4,1.3,2.1,2.5,3.2,4.5,5.7, 4.3,3.0,2.2,1.65,1.5,1.35,1.5,1.4,1.35,1.3, 1.1,1.3,1.6,2.1,1.3,1.6,1.6,0.95,0.95,0.9, 0.9,0.92,0.9,0.9,0.85,0.8,0.85,0.9,0.95,1.2, 1.0,0.95,0.95,1.0,1.05,1.1,1.1,1.15,1.2,1.25];
const mmag465_sc = [0.2,0.2,0.22,0.2,0.2,0.2,0.22,0.2,0.2,0.2,0.2, 0.2,0.2,0.22,0.25,0.4,0.6,0.8,1.05,1.5,1.85, 1.6,1.2,0.7,0.45,0.4,0.35,0.35,0.32,0.3,0.3, 0.3,0.32,0.4,0.5,0.35,0.3,0.3,0.28,0.25,0.25, 0.25,0.25,0.25,0.25,0.28,0.3,0.3,0.35,0.4,0.45, 0.35,0.3,0.3,0.3,0.3,0.35,0.3,0.3,0.28,0.25];
const mmag465_pca = [0.4,0.4,0.38,0.4,0.4,0.4,0.38,0.4,0.4,0.38,0.4, 0.4,0.5,0.6,0.8,0.9,1.5,2.2,2.6,3.4,3.8, 3.4,2.4,1.5,0.8,0.8,0.75,0.75,0.7,0.72,0.7, 0.7,0.75,0.9,1.45,0.75,0.8,0.8,0.6,0.55,0.55, 0.55,0.5,0.45,0.45,0.5,0.5,0.55,0.6,0.7,0.8, 0.6,0.6,0.55,0.55,0.6,0.7,0.6,0.5,0.45,0.35];
const mmag465_fa = [1.5,1.5,1.4,1.1,1.6,1.2,1.2,0.95,1.0,1.15,0.95, 1.5,1.4,1.65,1.9,2.1,3.6,4.8,8.5,11,12, 11,7.0,4.0,2.8,2.9,3.05,3.0,3.0,2.3,2.1, 2.2,2.4,3.0,3.75,2.5,2.5,2.5,1.8,1.65,1.65, 1.75,1.8,1.8,1.9,1.5,1.3,1.55,1.7,1.9,2.0, 2.2,2.3,2.35,2.35,2.2,2.1,2.2,2.5,2.0,1.45];

// ---- vv-meg-mag (1550 samples)
const mmag1550_raw = [0.95,1.25,1.2,1.15,1.15,1.2,1.15,1.1,1.2,1.15,1.2, 1.75,1.5,1.9,2.35,2.65,3.5,5.7,8,10,12, 11,8,4.3,2.8,2.6,2.45,2.35,2.5,2.7,2.9, 3.1,2.85,2.8,2.7,2.6,2.65,2.65,2.5,2.9,1.9, 2.3,2.1,1.75,1.9,2.1,2.3,2.6,2.7,2.6,2.4, 2.3,2.3,2.2,2.2,2.1,2.1,2.2,2.1,2.0,1.8];
const mmag1550_reg = [0.58,0.6,0.55,0.6,0.58,0.6,0.6,0.55,0.6,0.58,0.6, 0.65,0.6,0.8,0.9,1.1,1.3,2.3,3.6,4.3,4.7, 4.3,3.3,2.4,1.8,1.2,1.0,1.0,1.1,1.15,0.85, 1.05,0.95,1.0,1.0,1.0,0.95,0.9,0.9,0.85,0.8, 0.85,0.85,0.85,0.9,0.9,0.85,0.85,0.9,0.9,0.85, 0.9,0.9,0.95,0.95,1.0,0.95,1.0,1.0,1.05,1.1];
const mmag1550_lw = [0.68,0.7,0.65,0.7,0.68,0.7,0.7,0.65,0.7,0.68,0.7, 0.75,0.7,0.9,1.0,1.2,1.4,2.5,3.8,4.6,5.0, 4.6,3.5,2.65,1.95,1.3,1.1,1.1,1.2,1.25,0.95, 1.15,1.05,1.1,1.1,1.1,1.05,1.0,1.0,0.95,0.9, 0.95,0.95,0.95,1.0,1.0,0.95,0.95,1.0,1.0,0.95, 1.0,1.0,1.05,1.05,1.1,1.05,1.1,1.1,1.15,1.2];
const mmag1550_sc = [0.4,0.42,0.4,0.4,0.42,0.4,0.4,0.42,0.4,0.4,0.42, 0.45,0.45,0.5,0.6,0.8,1.0,1.8,2.5,3.3,3.6, 3.2,2.4,1.5,1.1,0.85,0.75,0.75,0.8,0.8,0.7, 0.75,0.7,0.75,0.75,0.75,0.7,0.7,0.7,0.65,0.65, 0.65,0.65,0.7,0.7,0.7,0.65,0.65,0.7,0.7,0.7, 0.7,0.7,0.75,0.75,0.75,0.7,0.75,0.75,0.8,0.8];
const mmag1550_pca = [0.25,0.27,0.25,0.25,0.27,0.25,0.25,0.27,0.25,0.25,0.27, 0.3,0.3,0.35,0.45,0.6,1.0,1.6,2.3,3.0,3.3, 3.0,2.0,1.1,0.75,0.55,0.5,0.5,0.55,0.55,0.5, 0.5,0.5,0.5,0.5,0.5,0.45,0.45,0.45,0.4,0.4, 0.4,0.4,0.45,0.45,0.45,0.4,0.4,0.45,0.45,0.45, 0.45,0.45,0.5,0.5,0.5,0.45,0.5,0.5,0.5,0.5];
const mmag1550_fa = [0.95,1.15,1.1,1.2,1.25,1.25,1.15,1.1,1.05,0.95,1.05, 1.2,1.1,1.4,1.8,2.2,2.6,4.0,7.0,10,12, 11,7,3.6,2.6,1.95,2.0,2.1,2.15,2.4,2.2, 2.0,1.85,1.8,1.8,1.85,1.85,1.85,1.8,1.6,1.25, 1.35,1.5,1.45,1.4,1.5,1.6,1.7,1.6,1.5,1.45, 1.4,1.4,1.35,1.35,1.3,1.3,1.3,1.25,1.25,1.25];

const panelTitles = [
  'bti-mag (450 samples)','bti-mag (1500 samples)',
  'ctf-mag (465 samples)','ctf-mag (1550 samples)',
  'vv-eeg (465 samples)','vv-eeg (1550 samples)',
  'vv-grad (465 samples)','vv-grad (1550 samples)',
  'vv-mag (465 samples)','vv-mag (1550 samples)',
  'vv-meg-grad (465 samples)','vv-meg-grad (1550 samples)',
  'vv-meg-mag (465 samples)','vv-meg-mag (1550 samples)'
];
const panelData = [
  [bti450_raw,bti450_reg,bti450_lw,bti450_sc,bti450_pca,bti450_fa],
  [bti1500_raw,bti1500_reg,bti1500_lw,bti1500_sc,bti1500_pca,bti1500_fa],
  [ctf465_raw,ctf465_reg,ctf465_lw,ctf465_sc,ctf465_pca,ctf465_fa],
  [ctf1550_raw,ctf1550_reg,ctf1550_lw,ctf1550_sc,ctf1550_pca,ctf1550_fa],
  [eeg465_raw,eeg465_reg,eeg465_lw,eeg465_sc,eeg465_pca,eeg465_fa],
  [eeg1550_raw,eeg1550_reg,eeg1550_lw,eeg1550_sc,eeg1550_pca,eeg1550_fa],
  [grad465_raw,grad465_reg,grad465_lw,grad465_sc,grad465_pca,grad465_fa],
  [grad1550_raw,grad1550_reg,grad1550_lw,grad1550_sc,grad1550_pca,grad1550_fa],
  [mag465_raw,mag465_reg,mag465_lw,mag465_sc,mag465_pca,mag465_fa],
  [mag1550_raw,mag1550_reg,mag1550_lw,mag1550_sc,mag1550_pca,mag1550_fa],
  [mgrad465_raw,mgrad465_reg,mgrad465_lw,mgrad465_sc,mgrad465_pca,mgrad465_fa],
  [mgrad1550_raw,mgrad1550_reg,mgrad1550_lw,mgrad1550_sc,mgrad1550_pca,mgrad1550_fa],
  [mmag465_raw,mmag465_reg,mmag465_lw,mmag465_sc,mmag465_pca,mmag465_fa],
  [mmag1550_raw,mmag1550_reg,mmag1550_lw,mmag1550_sc,mmag1550_pca,mmag1550_fa]
];

// ---- presentation
const colors = {raw:'#808080', reg:'#ff1493', lw:'#0000ff', sc:'#00bfbf', pca:'#ffa500', fa:'#ff0000'};
const FONT = 'DejaVu Sans';
const colLeft = [36, 522], colWidth = [462, 460];
const rowTop0 = 12.7, rowStep = 106.7, rowH = 95;
const nRows = 7;
const dotted = {color: '#000', type: [1, 3], width: 0.8};

function fmtTick(v){ return v < 0 ? '\u2212' + Math.abs(v) : String(v); }

const grids = [], xAxes = [], yAxes = [], titles = [], series = [];
let bad = [];
panelData.forEach((arrs, i) => {
  const row = Math.floor(i / 2), col = i % 2;
  const top = rowTop0 + rowStep * row;
  const isBottom = row === nRows - 1;
  grids.push({left: colLeft[col], top: top, width: colWidth[col], height: rowH,
    show: true, borderColor: '#000', borderWidth: 1, backgroundColor: 'transparent'});
  const allowed = col === 0 ? leftTicks : rightTicks;
  xAxes.push({gridIndex: i, type: 'value', position: 'bottom', min: -200, max: 500, interval: 100,
    axisLine: {show: false, onZero: false},
    axisTick: {show: true, inside: true, length: 4, lineStyle: {color: '#000'}},
    splitLine: {show: false},
    axisLabel: {show: isBottom, margin: 3, color: '#000', fontSize: 12, fontFamily: FONT,
      formatter: v => allowed.indexOf(v) >= 0 ? fmtTick(v) : ''},
    name: isBottom ? 'Time (ms)' : '', nameLocation: 'middle', nameGap: 19,
    nameTextStyle: {color: '#000', fontSize: 12, fontFamily: FONT}
  });
  yAxes.push({gridIndex: i, type: 'value', position: 'left', min: 0, max: 8, interval: 1,
    axisLine: {show: false, onZero: false},
    axisTick: {show: true, inside: true, length: 4, lineStyle: {color: '#000'}},
    splitLine: {show: true, lineStyle: dotted},
    axisLabel: {show: col === 0, margin: 3, color: '#000', fontSize: 12, fontFamily: FONT,
      formatter: v => (v % 2 === 0 ? String(v) : '')},
    name: col === 0 ? 'GFP (Chi^2)' : '', nameLocation: 'middle', nameGap: 13, nameRotate: 90,
    nameTextStyle: {color: '#000', fontSize: 11, fontFamily: FONT}
  });
  titles.push({text: panelTitles[i], left: colLeft[col] + 8, top: top + 13, z: 20,
    backgroundColor: '#fff', borderColor: '#000', borderWidth: 1, padding: [2, 3, 1, 3],
    textStyle: {fontSize: 16.5, fontWeight: 'normal', color: '#000', fontFamily: FONT}});
  arrs.forEach((vals, k) => {
    if (vals.length !== times.length) bad.push(panelTitles[i] + ' ' + seriesNames[k] + ' ' + vals.length);
    const s = {
      name: seriesNames[k], type: 'line', xAxisIndex: i, yAxisIndex: i,
      data: times.map((t, j) => [t, vals[j]]),
      symbol: 'none', clip: true, z: 2 + k,
      lineStyle: {color: colors[seriesNames[k]], width: 1},
      itemStyle: {color: colors[seriesNames[k]]},
      emphasis: {disabled: true}
    };
    if (k === 0) {
      const gridMarks = timeGrid.map(t => ({xAxis: t, lineStyle: dotted}));
      s.markLine = {silent: true, symbol: 'none', label: {show: false},
        lineStyle: {color: '#000', type: [6, 3, 1, 3], width: 1},
        data: gridMarks.concat([{yAxis: refLevel, lineStyle: {color: '#000', type: [6, 3, 1, 3], width: 1}}])};
    }
    series.push(s);
  });
});

const chart = echarts.init(document.getElementById('c'), null, {renderer: 'canvas'});
chart.setOption({
  animation: false,
  backgroundColor: '#fff',
  title: titles,
  grid: grids, xAxis: xAxes, yAxis: yAxes,
  legend: {data: seriesNames, orient: 'vertical', left: 902, top: 615, z: 20,
    backgroundColor: '#fff', borderColor: '#000', borderWidth: 1, padding: [7, 6, 7, 8],
    itemWidth: 20, itemHeight: 2, itemGap: 7, icon: 'rect',
    textStyle: {fontSize: 13, fontFamily: FONT, color: '#000', lineHeight: 12, padding: [0, 0, 0, 10]}},
  series: series
});
if (bad.length) setTimeout(() => { throw new Error('length mismatch: ' + bad.join('; ')); }, 0);
</script></body></html>
